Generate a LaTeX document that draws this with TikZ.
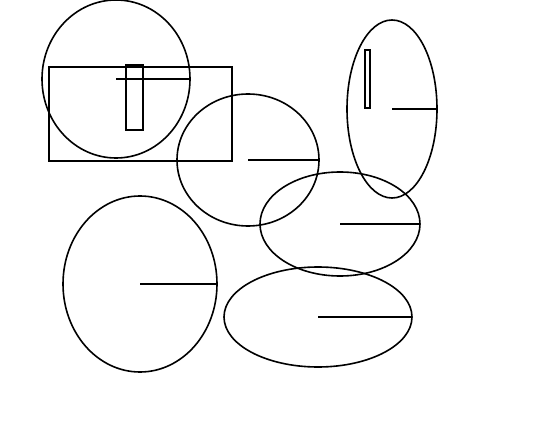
\documentclass[tikz,border=0pt]{standalone}
\usepackage{tikz}
\usetikzlibrary{shapes,positioning}
\begin{document}
\begin{tikzpicture}[x=1pt,y=-1pt]
\tikzstyle{oval}=[draw=black,ellipse,line width=1.6pt,inner sep=0pt,outer sep=0pt]
\tikzstyle{box}=[draw=black,line width=1.5pt]
\tikzstyle{radius}=[line width=1.5pt]
\useasboundingbox (0,0) rectangle (536,425);
% ovals, each with a line from its centre to its right side
\node [oval,minimum width=148pt,minimum height=158pt] at (116,79) (o1) {};
\node [oval,minimum width=142pt,minimum height=132pt] at (248,160) (o2) {};
\node [oval,minimum width=90pt,minimum height=178pt] at (392,109) (o3) {};
\node [oval,minimum width=160pt,minimum height=104pt] at (340,224) (o4) {};
\node [oval,minimum width=154pt,minimum height=176pt] at (140,284) (o5) {};
\node [oval,minimum width=188pt,minimum height=100pt] at (318,317) (o6) {};
\foreach \o in {o1,o2,o3,o4,o5,o6}
  \draw [radius] (\o.center) -- (\o.east);
% rectangles
\draw [box] (49,67) rectangle (232,161);
\draw [box] (126,65) rectangle (143,130);
\draw [box] (365,50) rectangle (370,108);
\end{tikzpicture}
\end{document}
